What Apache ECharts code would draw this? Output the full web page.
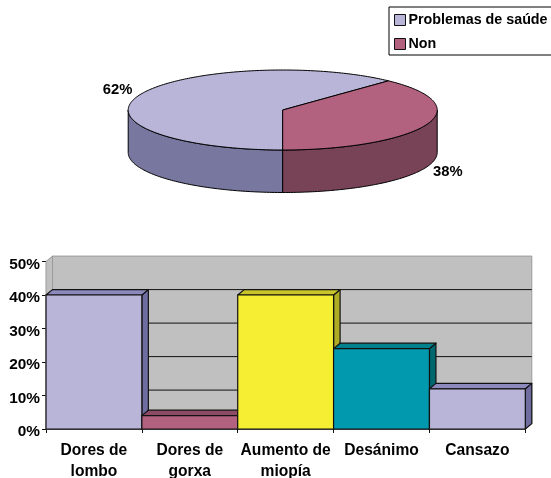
<!DOCTYPE html>
<html><head><meta charset="utf-8">
<style>html,body{margin:0;padding:0;background:#fff}#c{width:551px;height:478px}</style>
<script src="https://cdn.jsdelivr.net/npm/echarts@6/dist/echarts.min.js"></script>
</head><body><div id="c"></div>
<script>
// ---- data ----
const pieNames = ['Problemas de saúde', 'Non'];
const pieValues = [62, 38];
const barCategories = ['Dores de\nlombo', 'Dores de\ngorxa', 'Aumento de\nmiopía', 'Desánimo', 'Cansazo'];
const barValues = [40, 4, 40, 24, 12];
const yTicks = [0, 10, 20, 30, 40, 50];
// ---- styles ----
const pieTop = ['#B9B5D8', '#B2627F'];
const pieSide = ['#77779F', '#784257'];
const barFront = ['#B9B5D8', '#B2627F', '#F5EE32', '#0099AE', '#B9B5D8'];
const barTop = ['#8C89BC', '#8C4A64', '#C9C42A', '#007F8C', '#8C89BC'];
const barSide = ['#6F6D9F', '#784257', '#AFAB22', '#00676F', '#6F6D9F'];
const FONT = '"Liberation Sans", Arial, sans-serif';
const DX = 6.5, DY = -5.4;           // 3-D depth offset of the bar chart
const P = {cx: 282.7, cy: 110, rx: 154.5, ry: 40, depth: 42.5};  // 3-D pie layout

const chart = echarts.init(document.getElementById('c'), null, {renderer: 'canvas'});

const total = pieValues.reduce((a, b) => a + b, 0);
const rad = d => d * Math.PI / 180;
const ptAt = (deg, extra) => [P.cx + P.rx * Math.sin(rad(deg)), P.cy - P.ry * Math.cos(rad(deg)) + (extra || 0)];

function sliceRange(i) {
  let s = 180;               // starts at six o'clock, runs clockwise
  for (let k = 0; k < i; k++) s += pieValues[k] / total * 360;
  return [s, s + pieValues[i] / total * 360];
}
function arc(a, b, extra) {
  const pts = [], n = Math.max(2, Math.ceil(Math.abs(b - a)));
  for (let k = 0; k <= n; k++) pts.push(ptAt(a + (b - a) * k / n, extra));
  return pts;
}
function renderSlice(i) {
  const [a, b] = sliceRange(i);
  const children = [];
  // visible rim: the part of the slice on the near half (90..270 deg)
  const ranges = [[a, b], [a - 360, b - 360]];
  ranges.forEach(([ra, rb]) => {
    const lo = Math.max(ra, 90), hi = Math.min(rb, 270);
    if (hi > lo) {
      const top = arc(lo, hi, 0), bot = arc(hi, lo, P.depth);
      children.push({type: 'polygon', shape: {points: top.concat(bot)},
        style: {fill: pieSide[i], stroke: '#000', lineWidth: 1}});
    }
  });
  children.push({type: 'polygon', shape: {points: [[P.cx, P.cy]].concat(arc(a, b, 0))},
    style: {fill: pieTop[i], stroke: '#000', lineWidth: 1, lineJoin: 'round'}});
  // percent label
  const mid = (a + b) / 2;
  const lx = P.cx + P.rx * 1.15 * Math.sin(rad(mid));
  const nearSide = Math.cos(rad(mid)) < 0;
  const ly = P.cy - P.ry * 1.35 * Math.cos(rad(mid)) + (nearSide ? P.depth : 0);
  children.push({type: 'text', x: lx, y: ly, style: {
    text: Math.round(pieValues[i] / total * 100) + '%', font: 'bold 14.8px ' + FONT,
    fill: '#000', align: 'center', verticalAlign: 'middle'}});
  return {type: 'group', children};
}

function renderWall(params, api) {
  const x0 = params.coordSys.x, x1 = x0 + params.coordSys.width;
  const yTop = api.coord([0, yTicks[yTicks.length - 1]])[1];
  const yBot = api.coord([0, 0])[1];
  const wall = {stroke: '#9a9a9a', lineWidth: 1, fill: '#C0C0C0'};
  const children = [
    {type: 'polygon', shape: {points: [[x0, yTop], [x0 + DX, yTop + DY], [x0 + DX, yBot + DY], [x0, yBot]]}, style: wall},
    {type: 'polygon', shape: {points: [[x0, yBot], [x0 + DX, yBot + DY], [x1 + DX, yBot + DY], [x1, yBot]]}, style: wall},
    {type: 'rect', shape: {x: x0 + DX, y: yTop + DY, width: x1 - x0, height: yBot - yTop}, style: wall}
  ];
  yTicks.slice(1, -1).forEach(t => {
    const y = api.coord([0, t])[1];
    children.push({type: 'line', shape: {x1: x0 + DX, y1: y + DY, x2: x1 + DX, y2: y + DY},
      style: {stroke: '#111', lineWidth: 1}});
  });
  return {type: 'group', children};
}

function renderBar(params, api) {
  const i = params.dataIndex;
  const size = api.size([1, 0])[0];
  const c = api.coord([api.value(0), api.value(1)]);
  const b = api.coord([api.value(0), 0]);
  const l = c[0] - size / 2, r = c[0] + size / 2, t = c[1], bt = b[1];
  const edge = {stroke: '#111', lineWidth: 1.2, lineJoin: 'round'};
  return {type: 'group', children: [
    {type: 'polygon', shape: {points: [[r, t], [r + DX, t + DY], [r + DX, bt + DY], [r, bt]]},
      style: Object.assign({fill: barSide[i]}, edge)},
    {type: 'polygon', shape: {points: [[l, t], [l + DX, t + DY], [r + DX, t + DY], [r, t]]},
      style: Object.assign({fill: barTop[i]}, edge)},
    {type: 'rect', shape: {x: l, y: t, width: r - l, height: bt - t},
      style: Object.assign({fill: barFront[i]}, edge)}
  ]};
}

const labelStyle = {fontFamily: FONT, fontWeight: 'bold', fontSize: 15, color: '#000'};

chart.setOption({
  animation: false,
  backgroundColor: '#fff',
  legend: {
    orient: 'vertical', left: 389, top: 7, padding: [6, 40, 4, 5],
    backgroundColor: '#fff', borderColor: '#000', borderWidth: 1, borderRadius: 0,
    itemWidth: 11, itemHeight: 11, itemGap: 10, icon: 'rect', align: 'left',
    textStyle: Object.assign({}, labelStyle, {fontSize: 14.3, padding: [0, 0, 0, -2]}),
    data: pieNames.map((n, i) => ({name: n, itemStyle: {color: pieTop[i], borderColor: '#111', borderWidth: 1}}))
  },
  grid: {left: 46, top: 261.5, width: 479.3, height: 167.5, outerBoundsMode: 'none'},
  xAxis: {
    type: 'category', data: barCategories, boundaryGap: true,
    axisLine: {show: true, lineStyle: {color: '#111', width: 1.2}},
    axisTick: {show: true, alignWithLabel: false, length: 4, lineStyle: {color: '#111'}},
    axisLabel: Object.assign({}, labelStyle, {fontSize: 15.6, margin: 11, lineHeight: 21, interval: 0}),
    splitLine: {show: false}
  },
  yAxis: {
    type: 'value', min: yTicks[0], max: yTicks[yTicks.length - 1], interval: 10,
    axisLine: {show: true, lineStyle: {color: '#808080', width: 1}},
    axisTick: {show: true, length: 4, lineStyle: {color: '#111'}},
    axisLabel: Object.assign({}, labelStyle, {fontSize: 15.4, margin: 6, verticalAlign: 'top', lineHeight: 6, formatter: '{value}%'}),
    splitLine: {show: false}
  },
  series: [
    {name: 'wall', type: 'custom', silent: true, clip: false, z: 1, data: [[0, 0]],
      encode: {x: 0, y: 1}, renderItem: renderWall},
    {name: 'bars', type: 'custom', clip: false, z: 2, encode: {x: 0, y: 1},
      data: barValues.map((v, i) => [i, v]), renderItem: renderBar},
    ...pieNames.map((n, i) => ({
      name: n, type: 'custom', coordinateSystem: 'none', z: 3,
      itemStyle: {color: pieTop[i]},
      data: [pieValues[i]], renderItem: () => renderSlice(i)
    }))
  ]
});
</script></body></html>
